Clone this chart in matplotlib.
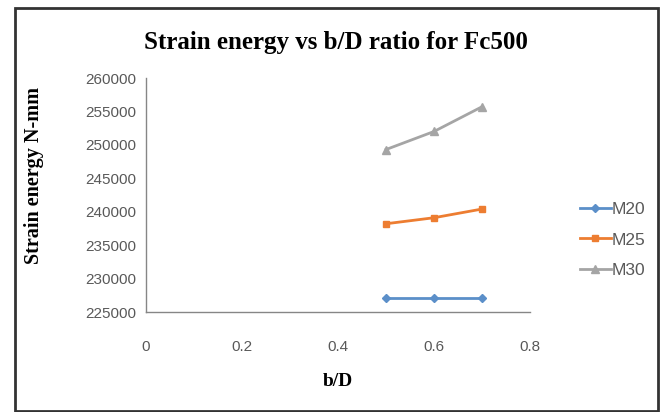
import matplotlib
matplotlib.use("Agg")
import matplotlib.pyplot as plt
from matplotlib.patches import Rectangle

# dados
bd = [0.5, 0.6, 0.7]
m20 = [227100, 227100, 227100]
m25 = [238200, 239100, 240400]
m30 = [249300, 252000, 255700]

series = [("M20", m20, "#5B8FC9", "D", 4),
          ("M25", m25, "#ED7D31", "s", 5),
          ("M30", m30, "#A5A5A5", "^", 6)]

xticks = [0, 0.2, 0.4, 0.6, 0.8]
yticks = list(range(225000, 260001, 5000))

plt.rcParams["font.family"] = ["Liberation Sans", "DejaVu Sans"]
fig = plt.figure(figsize=(6.63, 4.12), dpi=100)
ax = fig.add_axes([146 / 663, 1 - 312 / 412, 384 / 663, 234 / 412])

for nome, vals, cor, mk, ms in series:
    ax.plot(bd, vals, color=cor, linewidth=2, marker=mk, markersize=ms,
            markeredgecolor=cor, label=nome)

ax.set_xlim(0, 0.8)
ax.set_ylim(225000, 260000)
ax.set_xticks(xticks)
ax.set_xticklabels([f"{v:g}" for v in xticks])
ax.set_yticks(yticks)
ax.tick_params(length=0, labelsize=11, labelcolor="#595959")
ax.tick_params(axis="x", pad=20)
ax.tick_params(axis="y", pad=7)
for s in ["top", "right"]:
    ax.spines[s].set_visible(False)
for s in ["left", "bottom"]:
    ax.spines[s].set_color("#868686")
    ax.spines[s].set_linewidth(1)

ax.set_xlabel("b/D", family="Liberation Serif", fontweight="bold",
              fontsize=14, labelpad=14)
ax.set_ylabel("Strain energy N-mm", family="Liberation Serif",
              fontweight="bold", fontsize=14.5)
ax.yaxis.set_label_coords(-0.265, 0.585)

fig.text(0.506, 1 - 42 / 412, "Strain energy vs b/D ratio for Fc500",
         family="Liberation Serif", fontweight="bold", fontsize=18,
         ha="center", va="center")

fig.legend(loc="center left", bbox_to_anchor=(564 / 663, 1 - 240 / 412),
           frameon=False, fontsize=12.5, handlelength=1.8, handletextpad=0.05,
           labelspacing=0.9, labelcolor="#595959")

fig.patches.append(Rectangle((15 / 663, 0.002), 643 / 663, 1 - 8 / 412 - 0.002,
                             transform=fig.transFigure, fill=False,
                             edgecolor="#333333", linewidth=2))

fig.savefig("out.png", dpi=100)
